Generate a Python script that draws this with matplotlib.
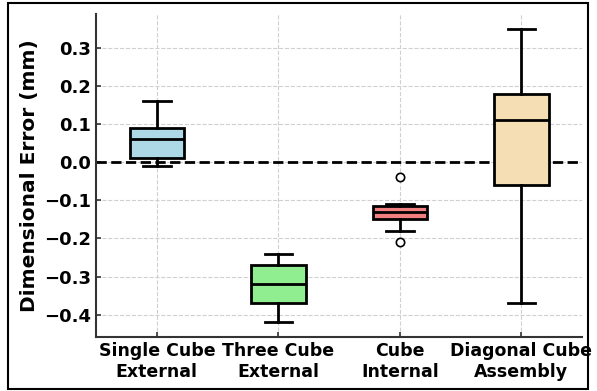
import matplotlib
matplotlib.use("Agg")
import matplotlib.pyplot as plt
from matplotlib.patches import Rectangle

# Box statistics (mm)
categories = ["Single Cube\nExternal", "Three Cube\nExternal", "Cube\nInternal", "Diagonal Cube\nAssembly"]
whisker_low = [-0.01, -0.42, -0.18, -0.37]
q1 = [0.01, -0.37, -0.15, -0.06]
median = [0.06, -0.32, -0.13, 0.11]
q3 = [0.09, -0.27, -0.115, 0.18]
whisker_high = [0.16, -0.24, -0.11, 0.35]
outliers = [[], [], [-0.04, -0.21], []]
colors = ["lightblue", "lightgreen", "lightcoral", "wheat"]

plt.rcParams["font.family"] = ["DejaVu Sans"]
plt.rcParams["font.weight"] = "bold"

fig = plt.figure(figsize=(5.97, 3.91), dpi=100)
ax = fig.add_axes([0.161, 0.138, 0.814, 0.826])

stats = []
for i, name in enumerate(categories):
    stats.append(dict(label=name, whislo=whisker_low[i], q1=q1[i], med=median[i],
                      q3=q3[i], whishi=whisker_high[i], fliers=outliers[i]))

bp = ax.bxp(stats, widths=0.45, patch_artist=True,
            boxprops=dict(linewidth=2, edgecolor="black"),
            medianprops=dict(color="black", linewidth=2),
            whiskerprops=dict(color="black", linewidth=2),
            capprops=dict(color="black", linewidth=2),
            flierprops=dict(marker="o", markerfacecolor="white", markeredgecolor="black",
                            markersize=6, markeredgewidth=1.2))
for patch, c in zip(bp["boxes"], colors):
    patch.set_facecolor(c)

ax.axhline(0, color="black", linestyle="--", linewidth=2, zorder=1)
ax.grid(True, linestyle="--", color="#d0d0d0", linewidth=0.8)
ax.set_axisbelow(True)

ax.set_ylabel("Dimensional Error (mm)", fontsize=14.5, fontweight="bold")
ax.tick_params(axis="y", direction="in", labelsize=13, width=1.2, color="#333333")
ax.tick_params(axis="x", direction="in", labelsize=12.5, width=1.2, color="#333333")
for lab in ax.get_xticklabels() + ax.get_yticklabels():
    lab.set_fontweight("bold")
ax.set_yticks([-0.4, -0.3, -0.2, -0.1, 0.0, 0.1, 0.2, 0.3])

for s in ["top", "right"]:
    ax.spines[s].set_visible(False)
for s in ["left", "bottom"]:
    ax.spines[s].set_linewidth(1.5)
    ax.spines[s].set_color("#333333")

# outer frame
fig.patches.append(Rectangle((0.013, 0.005), 0.972, 0.987, transform=fig.transFigure,
                             fill=False, edgecolor="black", linewidth=1.5))

fig.savefig("out.png", dpi=100)
